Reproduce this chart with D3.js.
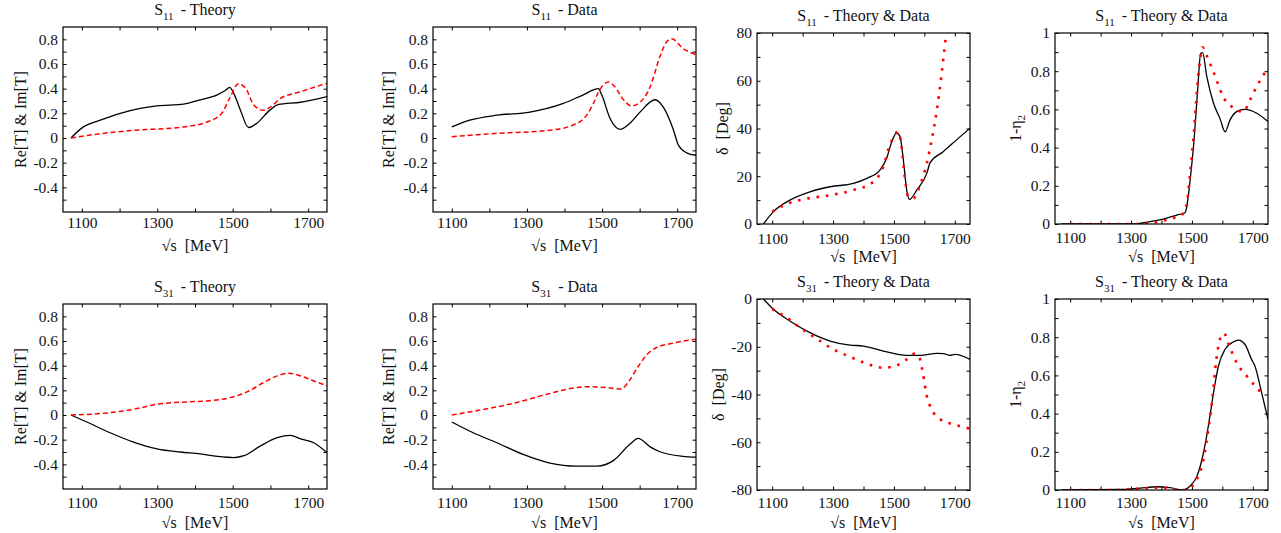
<!DOCTYPE html>
<html>
<head>
<meta charset="utf-8">
<script src="https://cdn.jsdelivr.net/npm/d3@7"></script>
<style>
    body { margin: 0; background: #fff; }
    svg text { font-family: "Liberation Serif", "Times New Roman", serif; fill: #111; }
</style>
</head>
<body>
<div id="chart"></div>
<script>
// Energy axis (sqrt(s) in MeV)
const energyDomain = [1050, 1750];
const energyTicks = [1100, 1200, 1300, 1400, 1500, 1600, 1700];
const energyLabels = [1100, 1300, 1500, 1700];

// Y axis ticks
const ampTicks = [-0.5, -0.4, -0.3, -0.2, -0.1, 0, 0.1, 0.2, 0.3, 0.4, 0.5, 0.6, 0.7, 0.8];
const ampLabels = [-0.4, -0.2, 0, 0.2, 0.4, 0.6, 0.8];
const phaseS11Ticks = [0, 10, 20, 30, 40, 50, 60, 70, 80];
const phaseS11Labels = [0, 20, 40, 60, 80];
const phaseS31Ticks = [-80, -70, -60, -50, -40, -30, -20, -10, 0];
const phaseS31Labels = [-80, -60, -40, -20, 0];
const inelTicks = [0, 0.1, 0.2, 0.3, 0.4, 0.5, 0.6, 0.7, 0.8, 0.9, 1];
const inelLabels = [0, 0.2, 0.4, 0.6, 0.8, 1];

// S11 amplitudes, [sqrt(s), value]
const s11TheoryRe = [[1071, 0], [1104, 0.09], [1149, 0.145], [1202, 0.2], [1255, 0.24], [1299, 0.26], [1370, 0.275], [1414, 0.31], [1459, 0.35], [1480, 0.385], [1492, 0.41], [1503, 0.36], [1520, 0.23], [1542, 0.085], [1564, 0.12], [1600, 0.23], [1620, 0.27], [1680, 0.29], [1750, 0.335]];
const s11TheoryIm = [[1071, 0], [1149, 0.035], [1238, 0.062], [1370, 0.09], [1432, 0.13], [1471, 0.2], [1493, 0.33], [1515, 0.44], [1537, 0.39], [1555, 0.27], [1581, 0.225], [1600, 0.25], [1626, 0.32], [1680, 0.375], [1750, 0.445]];
const s11DataRe = [[1100, 0.09], [1148, 0.145], [1220, 0.185], [1308, 0.21], [1397, 0.28], [1450, 0.35], [1490, 0.40], [1499, 0.35], [1521, 0.16], [1548, 0.07], [1574, 0.12], [1601, 0.21], [1641, 0.31], [1663, 0.25], [1690, 0.065], [1703, -0.057], [1725, -0.12], [1750, -0.14]];
const s11DataIm = [[1100, 0.01], [1220, 0.038], [1353, 0.06], [1423, 0.105], [1459, 0.185], [1477, 0.28], [1490, 0.37], [1517, 0.455], [1534, 0.415], [1557, 0.31], [1579, 0.26], [1601, 0.29], [1628, 0.415], [1654, 0.66], [1672, 0.78], [1685, 0.805], [1716, 0.725], [1750, 0.675]];

// S11 phase shift (deg) and inelasticity
const s11PhaseTheory = [[1071, 0], [1104, 5.2], [1158, 10], [1224, 13.5], [1290, 15.6], [1367, 17], [1411, 19.1], [1454, 22.6], [1476, 27.5], [1493, 34.5], [1509, 38.2], [1520, 36.6], [1531, 26.8], [1542, 14.2], [1551, 10.3], [1575, 14.2], [1608, 21.2], [1619, 25.7], [1662, 30.3], [1718, 36.6], [1750, 40.1]];
const s11PhaseData = [[1100, 5.2], [1148, 8.4], [1202, 10.3], [1290, 12.1], [1367, 14.2], [1433, 17.7], [1465, 24], [1485, 32.4], [1503, 37.3], [1511, 38.7], [1522, 35.2], [1537, 18.4], [1547, 11.4], [1564, 10.8], [1586, 16.3], [1608, 25.4], [1624, 35.2], [1641, 47.7], [1657, 63.1], [1671, 78.5], [1675, 82]];
const s11InelTheory = [[1071, 0], [1300, 0], [1362, 0.012], [1406, 0.026], [1450, 0.047], [1477, 0.059], [1483, 0.09], [1494, 0.23], [1507, 0.44], [1518, 0.684], [1529, 0.894], [1535, 0.897], [1549, 0.771], [1571, 0.632], [1592, 0.553], [1609, 0.483], [1625, 0.544], [1647, 0.588], [1674, 0.6], [1713, 0.58], [1750, 0.536]];
const s11InelData = [[1100, 0], [1319, 0], [1400, 0.015], [1450, 0.038], [1472, 0.056], [1485, 0.126], [1496, 0.3], [1507, 0.49], [1515, 0.665], [1527, 0.86], [1535, 0.925], [1546, 0.89], [1565, 0.82], [1587, 0.728], [1603, 0.665], [1625, 0.623], [1647, 0.597], [1669, 0.588], [1691, 0.65], [1713, 0.72], [1735, 0.78], [1748, 0.815]];

// S31 amplitudes
const s31TheoryRe = [[1071, 0], [1113, -0.057], [1175, -0.144], [1237, -0.22], [1299, -0.274], [1361, -0.3], [1414, -0.315], [1459, -0.335], [1503, -0.345], [1530, -0.33], [1574, -0.25], [1618, -0.184], [1653, -0.165], [1680, -0.193], [1715, -0.225], [1750, -0.306]];
const s31TheoryIm = [[1071, 0], [1175, 0.019], [1237, 0.046], [1299, 0.087], [1379, 0.106], [1432, 0.114], [1494, 0.141], [1538, 0.187], [1582, 0.263], [1618, 0.317], [1649, 0.339], [1680, 0.317], [1715, 0.276], [1750, 0.236]];
const s31DataRe = [[1100, -0.057], [1157, -0.144], [1220, -0.225], [1290, -0.32], [1361, -0.39], [1432, -0.415], [1486, -0.415], [1530, -0.37], [1574, -0.238], [1596, -0.19], [1628, -0.258], [1654, -0.298], [1716, -0.335], [1750, -0.342]];
const s31DataIm = [[1100, 0], [1175, 0.04], [1264, 0.095], [1353, 0.168], [1415, 0.214], [1468, 0.23], [1512, 0.222], [1550, 0.21], [1574, 0.285], [1596, 0.393], [1619, 0.488], [1645, 0.547], [1690, 0.583], [1750, 0.615]];

// S31 phase shift (deg) and inelasticity
const s31PhaseTheory = [[1071, 0], [1104, -4.3], [1158, -9.2], [1224, -14.1], [1290, -17.6], [1356, -19.3], [1400, -19.7], [1465, -21.8], [1542, -23.6], [1586, -23.6], [1641, -22.8], [1663, -22.9], [1684, -23.6], [1701, -23.2], [1750, -25.3]];
const s31PhaseData = [[1100, -4.2], [1148, -7.8], [1191, -12], [1246, -16.6], [1301, -21.1], [1356, -24.2], [1411, -27.1], [1465, -28.8], [1509, -27.8], [1542, -25.3], [1569, -22.8], [1584, -24.6], [1595, -30.9], [1608, -40.6], [1624, -46.2], [1652, -50.4], [1695, -52.5], [1750, -54.3]];
const s31InelTheory = [[1071, 0], [1275, 0.003], [1330, 0.01], [1384, 0.017], [1428, 0.012], [1472, 0], [1494, 0.021], [1516, 0.07], [1538, 0.195], [1554, 0.335], [1571, 0.51], [1587, 0.649], [1609, 0.737], [1636, 0.775], [1652, 0.785], [1674, 0.763], [1696, 0.684], [1707, 0.649], [1729, 0.51], [1750, 0.37]];
const s31InelData = [[1100, 0], [1250, 0], [1300, 0.005], [1400, 0.012], [1470, 0], [1494, 0.012], [1516, 0.056], [1538, 0.16], [1554, 0.318], [1568, 0.49], [1579, 0.666], [1592, 0.789], [1605, 0.82], [1625, 0.745], [1647, 0.666], [1680, 0.597], [1713, 0.535], [1735, 0.5]];

// Line styles
const styles = {
    solid: { stroke: "#000", width: 1.3, dash: null },
    dashed: { stroke: "#f00", width: 1.5, dash: "5,3" },
    dotted: { stroke: "#f00", width: 2.6, dash: "2.6,6.8" }
};

const tickLen = 3.5;

// Panel layout
const panels = [
    { x: 63, y: 27, w: 264, h: 185, sub: "11", name: "Theory", yLabel: "re", yDomain: [-0.6, 0.9], yTicks: ampTicks, yLabels: ampLabels, xPad: 5, yLabelOff: 43, series: [[s11TheoryRe, "solid"], [s11TheoryIm, "dashed"]] },
    { x: 433, y: 27, w: 263, h: 185, sub: "11", name: "Data", yLabel: "re", yDomain: [-0.6, 0.9], yTicks: ampTicks, yLabels: ampLabels, xPad: 5, yLabelOff: 45, series: [[s11DataRe, "solid"], [s11DataIm, "dashed"]] },
    { x: 757, y: 33, w: 213, h: 191, sub: "11", name: "Theory & Data", yLabel: "delta", yDomain: [0, 80], yTicks: phaseS11Ticks, yLabels: phaseS11Labels, xPad: 9, yLabelOff: 35, series: [[s11PhaseTheory, "solid"], [s11PhaseData, "dotted"]] },
    { x: 1055, y: 33, w: 213, h: 191, sub: "11", name: "Theory & Data", yLabel: "eta", yDomain: [0, 1], yTicks: inelTicks, yLabels: inelLabels, xPad: 8, yLabelOff: 40, series: [[s11InelTheory, "solid"], [s11InelData, "dotted"]] },
    { x: 63, y: 304, w: 264, h: 185, sub: "31", name: "Theory", yLabel: "re", yDomain: [-0.6, 0.9], yTicks: ampTicks, yLabels: ampLabels, xPad: 8, yLabelOff: 43, series: [[s31TheoryRe, "solid"], [s31TheoryIm, "dashed"]] },
    { x: 433, y: 304, w: 263, h: 185, sub: "31", name: "Data", yLabel: "re", yDomain: [-0.6, 0.9], yTicks: ampTicks, yLabels: ampLabels, xPad: 8, yLabelOff: 45, series: [[s31DataRe, "solid"], [s31DataIm, "dashed"]] },
    { x: 757, y: 299, w: 213, h: 191, sub: "31", name: "Theory & Data", yLabel: "delta", yDomain: [-80, 0], yTicks: phaseS31Ticks, yLabels: phaseS31Labels, xPad: 7, yLabelOff: 39, series: [[s31PhaseTheory, "solid"], [s31PhaseData, "dotted"]] },
    { x: 1055, y: 299, w: 213, h: 191, sub: "31", name: "Theory & Data", yLabel: "eta", yDomain: [0, 1], yTicks: inelTicks, yLabels: inelLabels, xPad: 7, yLabelOff: 40, series: [[s31InelTheory, "solid"], [s31InelData, "dotted"]] }
];

const svg = d3.select("#chart")
    .append("svg")
    .attr("width", 1281)
    .attr("height", 533);

panels.forEach((p, i) => drawPanel(p, i));

function labelFormat(labels) {
    return v => labels.includes(v) ? String(v) : "";
}

function drawPanel(p, idx) {
    const g = svg.append("g").attr("transform", `translate(${p.x},${p.y})`);

    const x = d3.scaleLinear().domain(energyDomain).range([0, p.w]);
    const y = d3.scaleLinear().domain(p.yDomain).range([p.h, 0]);

    // Axes, ticks point inwards on all four sides
    const bottom = g.append("g")
        .attr("transform", `translate(0,${p.h})`)
        .call(d3.axisBottom(x).tickValues(energyTicks).tickSizeInner(-tickLen).tickSizeOuter(0)
            .tickPadding(p.xPad).tickFormat(labelFormat(energyLabels)));
    const top = g.append("g")
        .call(d3.axisTop(x).tickValues(energyTicks).tickSizeInner(-tickLen).tickSizeOuter(0).tickFormat(""));
    const left = g.append("g")
        .call(d3.axisLeft(y).tickValues(p.yTicks).tickSizeInner(-tickLen).tickSizeOuter(0)
            .tickPadding(5).tickFormat(labelFormat(p.yLabels)));
    const right = g.append("g")
        .attr("transform", `translate(${p.w},0)`)
        .call(d3.axisRight(y).tickValues(p.yTicks).tickSizeInner(-tickLen).tickSizeOuter(0).tickFormat(""));

    [bottom, top, left, right].forEach(a => {
        a.select(".domain").remove();
        a.selectAll(".tick line").attr("stroke", "#000").attr("stroke-width", 1);
        a.selectAll("text").style("font-size", "15.5px").attr("fill", "#111");
    });

    // Curves clipped to the frame
    const clipId = `clip${idx}`;
    g.append("clipPath").attr("id", clipId)
        .append("rect").attr("width", p.w).attr("height", p.h);

    const line = d3.line()
        .x(d => x(d[0]))
        .y(d => y(d[1]))
        .curve(d3.curveMonotoneX);

    p.series.forEach(([data, styleName]) => {
        const s = styles[styleName];
        g.append("path")
            .datum(data)
            .attr("clip-path", `url(#${clipId})`)
            .attr("fill", "none")
            .attr("stroke", s.stroke)
            .attr("stroke-width", s.width)
            .attr("stroke-dasharray", s.dash)
            .attr("d", line);
    });

    // Frame
    g.append("rect")
        .attr("width", p.w)
        .attr("height", p.h)
        .attr("fill", "none")
        .attr("stroke", "#000")
        .attr("stroke-width", 1.2);

    // Title: S_xx  - name
    const title = g.append("text")
        .attr("x", p.w / 2)
        .attr("y", -12)
        .attr("text-anchor", "middle")
        .style("font-size", "16px");
    title.append("tspan").text("S");
    title.append("tspan").attr("dy", 5).style("font-size", "11px").text(p.sub);
    title.append("tspan").attr("dy", -5).attr("dx", 7).text("- " + p.name);

    // X label
    g.append("text")
        .attr("x", p.w / 2)
        .attr("y", p.h + (p.yLabel === "re" ? 39 : 38))
        .attr("text-anchor", "middle")
        .style("font-size", "16px")
        .text("\u221As  [MeV]")
        .attr("xml:space", "preserve");

    // Y label
    const yl = g.append("text")
        .attr("transform", `translate(${-p.yLabelOff},${p.h / 2}) rotate(-90)`)
        .attr("text-anchor", "middle")
        .attr("dy", "0.35em")
        .attr("xml:space", "preserve")
        .style("font-size", "16px");
    if (p.yLabel === "re") {
        yl.text("Re[T] & Im[T]");
    } else if (p.yLabel === "delta") {
        yl.text("\u03B4  [Deg]");
    } else {
        yl.append("tspan").text("1-\u03B7");
        yl.append("tspan").attr("dy", 4).style("font-size", "11px").text("2");
    }
}
</script>
</body>
</html>
